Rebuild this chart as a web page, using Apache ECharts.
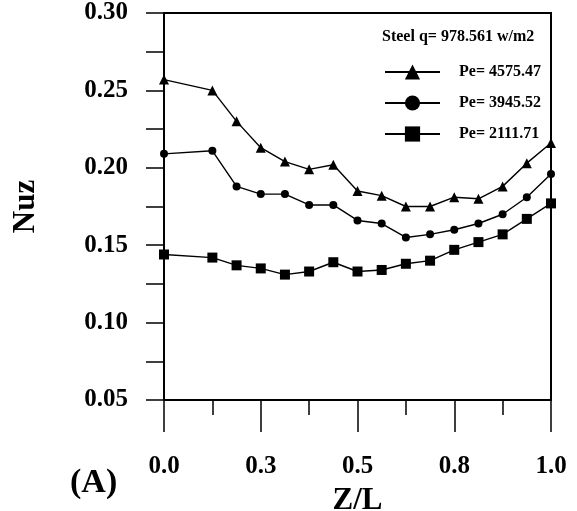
<!DOCTYPE html>
<html>
<head>
<meta charset="utf-8">
<script src="https://cdn.jsdelivr.net/npm/echarts@6/dist/echarts.min.js"></script>
<style>
  html, body { margin: 0; padding: 0; background: #fff; }
  #chart { width: 577px; height: 511px; background: #fff; }
</style>
</head>
<body>
<div id="chart"></div>
<script>
// Axial positions Z/L of the measuring stations
const zPositions = [0, 0.125, 0.1875, 0.25, 0.3125, 0.375, 0.4375, 0.5, 0.5625,
  0.625, 0.6875, 0.75, 0.8125, 0.875, 0.9375, 1.0];

// Local Nusselt number along the tube for each Peclet number
const nuzPe4575 = [0.257, 0.250, 0.230, 0.213, 0.204, 0.199, 0.202, 0.185, 0.182,
  0.175, 0.175, 0.181, 0.180, 0.188, 0.203, 0.216];
const nuzPe3945 = [0.209, 0.211, 0.188, 0.183, 0.183, 0.176, 0.176, 0.166, 0.164,
  0.155, 0.157, 0.160, 0.164, 0.170, 0.181, 0.196];
const nuzPe2111 = [0.144, 0.142, 0.137, 0.135, 0.131, 0.133, 0.139, 0.133, 0.134,
  0.138, 0.140, 0.147, 0.152, 0.157, 0.167, 0.177];

const seriesNames = ['Pe= 4575.47', 'Pe= 3945.52', 'Pe= 2111.71'];
const xTickValues = [0, 0.25, 0.5, 0.75, 1.0];
const xTickLabels = ['0.0', '0.3', '0.5', '0.8', '1.0'];
const yTickValues = [0.05, 0.10, 0.15, 0.20, 0.25, 0.30];
const yTickLabels = ['0.05', '0.10', '0.15', '0.20', '0.25', '0.30'];

const FONT = '"Liberation Serif", "Times New Roman", serif';

function lookupLabel(values, labels, v) {
  for (let i = 0; i < values.length; i++) {
    if (Math.abs(values[i] - v) < 1e-6) return labels[i];
  }
  return '';
}

function pairs(ys) {
  return zPositions.map((x, i) => [x, ys[i]]);
}

function blackLine() {
  return { color: '#000', width: 1.5 };
}

// Plain axis used only to close the frame on the top and right sides
function frameAxis(position, min, max) {
  return {
    type: 'value', position: position, min: min, max: max,
    axisLine: { show: true, onZero: false, lineStyle: { color: '#000', width: 2 } },
    axisTick: { show: false },
    axisLabel: { show: false },
    splitLine: { show: false }
  };
}

const chart = echarts.init(document.getElementById('chart'));
chart.setOption({
  animation: false,
  title: {
    text: 'Steel q= 978.561 w/m2',
    left: 382,
    top: 29,
    padding: 0,
    textStyle: { fontFamily: FONT, fontWeight: 'bold', fontSize: 16, color: '#000' }
  },
  legend: {
    orient: 'vertical',
    left: 384,
    top: 64,
    padding: 0,
    itemWidth: 55,
    itemHeight: 19,
    itemGap: 15,
    data: seriesNames,
    textStyle: {
      fontFamily: FONT, fontWeight: 'bold', fontSize: 16, color: '#000',
      padding: [0, 0, 0, 14]
    }
  },
  graphic: [{
    type: 'text',
    left: 70,
    top: 466,
    style: { text: '(A)', font: 'bold 34px ' + FONT, fill: '#000' }
  }],
  grid: {
    left: 164, right: 26, top: 13, bottom: 111,
    outerBoundsMode: 'none',
    show: true, borderColor: '#000', borderWidth: 2
  },
  xAxis: [{
    type: 'value',
    position: 'bottom',
    min: 0, max: 1, interval: 0.25,
    name: 'Z/L',
    nameLocation: 'middle',
    nameGap: 85,
    nameTextStyle: { fontFamily: FONT, fontWeight: 'bold', fontSize: 31, color: '#000' },
    axisLine: { show: true, onZero: false, lineStyle: blackLine() },
    axisTick: { show: true, inside: false, length: 32, lineStyle: blackLine() },
    minorTick: { show: true, splitNumber: 2, length: 15, lineStyle: blackLine() },
    splitLine: { show: false },
    axisLabel: {
      margin: 54,
      fontFamily: FONT, fontWeight: 'bold', fontSize: 25, color: '#000',
      formatter: v => lookupLabel(xTickValues, xTickLabels, v)
    }
  }, frameAxis('top', 0, 1)],
  yAxis: [{
    type: 'value',
    position: 'left',
    min: 0.05, max: 0.30, interval: 0.05,
    name: 'Nuz',
    nameLocation: 'middle',
    nameGap: 123,
    nameRotate: 90,
    nameTextStyle: { fontFamily: FONT, fontWeight: 'bold', fontSize: 31, color: '#000' },
    axisLine: { show: true, onZero: false, lineStyle: blackLine() },
    axisTick: { show: true, inside: false, length: 18, lineStyle: blackLine() },
    minorTick: { show: true, splitNumber: 2, length: 18, lineStyle: blackLine() },
    splitLine: { show: false },
    axisLabel: {
      margin: 36,
      fontFamily: FONT, fontWeight: 'bold', fontSize: 25, color: '#000',
      formatter: v => lookupLabel(yTickValues, yTickLabels, v)
    }
  }, frameAxis('right', 0.05, 0.30)],
  series: [
    {
      name: seriesNames[0], type: 'line', data: pairs(nuzPe4575),
      symbol: 'triangle', symbolSize: 10,
      lineStyle: { color: '#000', width: 1.4 },
      itemStyle: { color: '#000' }
    },
    {
      name: seriesNames[1], type: 'line', data: pairs(nuzPe3945),
      symbol: 'circle', symbolSize: 8,
      lineStyle: { color: '#000', width: 1.4 },
      itemStyle: { color: '#000' }
    },
    {
      name: seriesNames[2], type: 'line', data: pairs(nuzPe2111),
      symbol: 'rect', symbolSize: 10,
      lineStyle: { color: '#000', width: 1.4 },
      itemStyle: { color: '#000' }
    }
  ]
});
</script>
</body>
</html>
